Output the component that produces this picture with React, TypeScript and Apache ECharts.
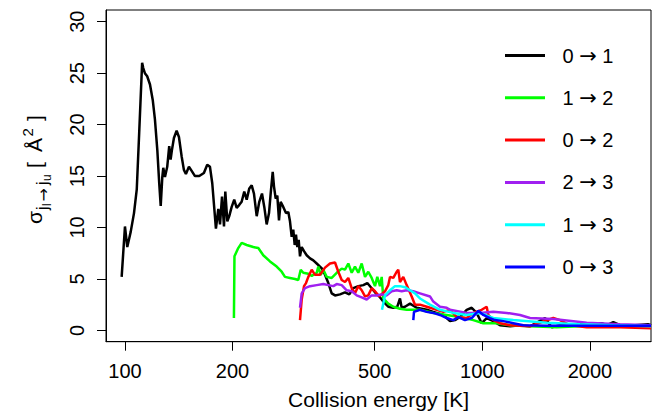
import React, { useEffect, useRef } from "react";
import * as echarts from "echarts";

// ---- data (collision energy in K, cross section in Å^2) ----
const xTicks = [100, 200, 500, 1000, 2000];
const yTicks = [0, 5, 10, 15, 20, 25, 30];
const seriesNames = ["0 → 1", "1 → 2", "0 → 2", "2 → 3", "1 → 3", "0 → 3"];
const seriesColors = ["#000000", "#00FF00", "#FF0000", "#A020F0", "#00FFFF", "#0000FF"];

const energy01 = [97.9, 100.0, 101.5, 103.8, 106.0, 107.9, 109.6, 111.7, 112.5, 113.7,
  115.4, 117.5, 119.6, 121.3, 123.2, 124.7, 125.9, 127.2, 128.0, 129.4,
  131.3, 133.0, 134.2, 135.3, 137.1, 139.5, 141.6, 144.1, 146.2, 148.1,
  151.0, 153.7, 157.0, 161.4, 166.3, 169.9, 172.9, 175.5, 179.7, 182.5,
  184.5, 186.9, 189.3, 190.9, 193.4, 195.8, 198.9, 202.2, 205.4, 208.9,
  212.1, 215.7, 219.1, 222.8, 226.3, 229.6, 233.7, 237.6, 241.8, 245.4,
  249.2, 253.0, 255.7, 259.1, 261.2, 264.1, 266.9, 269.8, 272.7, 277.3,
  282.2, 286.5, 289.6, 292.8, 295.8, 298.5, 301.0, 303.6, 306.3, 308.9,
  312.3, 317.0, 322.5, 329.5, 336.6, 344.0, 351.4, 356.0, 362.9, 370.7,
  378.9, 387.1, 399.7, 412.8, 424.4, 435.5, 449.8, 464.5, 476.6, 490.2,
  504.0, 514.9, 528.3, 545.6, 563.5, 578.2, 588.3, 594.8, 607.5, 627.5,
  655.1, 698.8, 729.1, 777.7, 812.0, 838.6, 866.0, 904.2, 933.8, 964.4,
  995.9, 1028.5, 1073.3, 1120.6, 1195.2, 1274.7, 1359.6, 1497.4, 1563.6, 1649.5,
  1816.8, 2001.3, 2158, 2232.9, 2325.4, 2428, 2674, 2908, 2965];
const sigma01 = [5.2, 10.1, 8.1, 9.6, 11.4, 13.7, 19.2, 26.0, 25.5, 25.0,
  24.7, 23.9, 22.4, 20.5, 17.5, 14.3, 12.1, 14.9, 15.8, 14.9,
  15.9, 17.9, 16.6, 17.5, 18.7, 19.4, 18.8, 16.9, 15.6, 15.2,
  15.9, 15.5, 15.0, 15.0, 15.3, 16.1, 15.9, 14.3, 9.9, 11.8,
  10.3, 13.0, 10.1, 13.5, 10.6, 11.1, 12.0, 12.7, 11.9, 12.2,
  12.5, 13.5, 12.7, 13.8, 14.1, 13.3, 11.1, 12.5, 13.3, 12.0,
  10.3, 11.4, 13.3, 15.4, 14.0, 12.8, 13.1, 10.7, 12.5, 12.0,
  11.4, 11.5, 10.6, 9.1, 9.8, 8.3, 9.3, 8.1, 8.8, 7.2,
  8.1, 7.7, 7.3, 7.0, 6.8, 6.5, 6.2, 6.0, 5.4, 4.6,
  3.6, 3.4, 3.5, 3.7, 3.5, 4.1, 4.3, 4.4, 4.6, 4.1,
  3.6, 3.3, 2.8, 2.3, 2.2, 2.3, 3.1, 2.2, 2.3, 2.6,
  2.2, 2.0, 1.8, 1.5, 0.9, 1.0, 1.3, 2.0, 2.2, 1.7,
  0.7, 1.2, 0.9, 0.5, 0.4, 0.5, 0.4, 1.2, 0.3, 0.5,
  0.6, 0.6, 0.7, 0.5, 0.8, 0.5, 0.5, 0.6, 0.5];

const energy12 = [201.8, 202.5, 207.5, 212.1, 219.1, 228.6, 236.1, 243.8, 254.6, 265.8,
  274.5, 280.4, 289.6, 299.1, 305.5, 310.3, 315.5, 325.9, 333.1, 344.0,
  347.6, 353.0, 359.0, 366.9, 378.9, 391.3, 404.1, 412.8, 421.7, 431.0,
  440.2, 449.8, 459.7, 469.6, 479.6, 490.2, 500.8, 508.3, 517.2, 522.9,
  528.3, 545.6, 563.5, 588.3, 614.2, 641.0, 669.2, 729.1, 794.9, 866.0,
  943.5, 1006.3, 1097.0, 1195.2, 1359.6, 1614.8, 1876.4, 2232.9, 2589.6, 2965];
const sigma12 = [1.2, 7.2, 8.0, 8.5, 8.3, 8.1, 8.0, 7.3, 6.7, 6.2,
  5.7, 5.2, 5.1, 5.0, 4.9, 5.9, 5.6, 5.5, 5.3, 5.6,
  6.2, 5.4, 5.9, 5.2, 5.1, 5.6, 6.0, 5.9, 6.5, 5.6,
  6.2, 5.6, 6.5, 5.2, 5.7, 5.1, 4.3, 5.2, 4.3, 5.2,
  3.1, 2.6, 2.3, 2.1, 2.0, 2.0, 2.0, 1.7, 1.5, 1.3,
  1.0, 0.7, 0.7, 0.5, 0.4, 0.3, 0.4, 0.4, 0.4, 0.4];

const energy02 = [308.9, 312.3, 317.0, 321.1, 325.9, 333.1, 340.3, 351.4, 362.9, 374.8,
  387.1, 395.4, 404.1, 412.8, 421.7, 431.0, 440.2, 449.8, 459.7, 469.6,
  479.6, 490.2, 500.8, 514.9, 534.1, 545.6, 551.6, 563.5, 575.9, 581.9,
  588.3, 600.9, 614.2, 634.4, 648.0, 669.2, 698.8, 745.3, 777.7, 812.0,
  847.8, 904.2, 943.5, 995.9, 1028.5, 1039.2, 1073.3, 1120.6, 1195.2, 1359.6,
  1579.9, 1649.5, 1759.3, 1959.2, 2428, 2965];
const sigma02 = [1.0, 3.0, 4.3, 4.6, 5.2, 5.9, 5.4, 5.4, 6.1, 6.5,
  6.6, 5.7, 4.9, 4.7, 5.1, 4.1, 3.6, 4.3, 3.9, 3.3,
  3.4, 4.1, 3.8, 3.3, 3.8, 4.4, 5.2, 5.1, 5.7, 5.9,
  4.7, 5.2, 4.4, 3.3, 2.5, 2.5, 2.3, 2.0, 1.8, 2.0,
  1.3, 1.2, 1.7, 2.0, 2.3, 1.5, 1.0, 0.7, 0.5, 0.4,
  1.2, 1.0, 0.5, 0.3, 0.3, 0.2];

const energy23 = [308.9, 312.3, 319.0, 329.5, 344.0, 359.0, 370.7, 382.9, 391.3, 404.1,
  417.3, 431.0, 445.1, 459.7, 474.7, 490.2, 506.3, 522.9, 540.0, 557.7,
  575.9, 594.8, 614.2, 641.0, 669.2, 713.8, 729.1, 761.3, 794.9, 812.0,
  904.2, 985.1, 1073.3, 1170.0, 1274.7, 1359.6, 1579.9, 1959.2, 2428, 2965];
const sigma23 = [2.2, 3.6, 4.1, 4.3, 4.4, 4.5, 4.4, 4.3, 4.5, 4.4,
  3.9, 3.8, 3.4, 3.2, 3.0, 3.4, 3.4, 3.5, 3.4, 3.8,
  3.9, 3.8, 3.9, 3.8, 3.6, 3.3, 2.8, 2.3, 2.2, 2.0,
  1.7, 1.7, 1.8, 1.7, 1.5, 1.2, 1.1, 0.75, 0.6, 0.5];

const energy13 = [523.9, 534.1, 551.6, 569.6, 588.3, 607.5, 627.5, 648.0, 669.2, 713.8,
  761.3, 829.5, 904.2, 985.1, 1073.3, 1220.9, 1514, 1876.4, 2325.4, 2965];
const sigma13 = [2.0, 3.4, 3.9, 4.3, 4.3, 4.2, 3.9, 3.6, 3.1, 2.5,
  2.0, 1.7, 1.5, 1.7, 1.2, 1.0, 0.75, 0.6, 0.5, 0.4];

const energy03 = [641.0, 643.9, 669.2, 698.8, 729.1, 761.3, 794.9, 829.5, 856.6, 894.3,
  933.8, 974.4, 1006.3, 1050.7, 1085.1, 1144.7, 1220.9, 1302.1, 1514, 2134.5, 2965];
const sigma03 = [1.0, 1.8, 2.0, 1.8, 1.7, 1.5, 1.2, 1.0, 1.3, 1.0,
  1.2, 1.9, 1.5, 1.2, 1.0, 0.9, 0.7, 0.5, 0.45, 0.45, 0.45];

const energies = [energy01, energy12, energy02, energy23, energy13, energy03];
const sigmas = [sigma01, sigma12, sigma02, sigma23, sigma13, sigma03];

const FONT = "'Liberation Sans', Arial, Helvetica, sans-serif";
const ARROW_FONT = "'DejaVu Sans', sans-serif";

function txt(text: string, x: number, y: number, size: number, family: string = FONT) {
  return {
    type: "text",
    x,
    y,
    style: {
      text,
      fontSize: size,
      fontFamily: family,
      fill: "#000",
      textAlign: "left",
      textVerticalAlign: "middle",
      align: "left",
      verticalAlign: "middle",
    },
  };
}

export default function App() {
  const ref = useRef<HTMLDivElement>(null);
  useEffect(() => {
    const chart = echarts.init(ref.current!, null, { renderer: "svg" });
    const series = seriesNames.map((name, i) => ({
      name,
      type: "line",
      data: energies[i].map((e, k) => [e, sigmas[i][k]]),
      showSymbol: false,
      symbol: "none",
      clip: true,
      lineStyle: { color: seriesColors[i], width: 2.5 },
      itemStyle: { color: seriesColors[i] },
      emphasis: { disabled: true },
    }));
    // y-axis title: sigma_{j_l -> j_u} [ Å^2 ] (rotated)
    const yTitle = {
      type: "group",
      x: 42,
      y: 224,
      rotation: Math.PI / 2,
      children: [
        txt("σ", 0, -7.35, 21),
        txt("j", 14, 0.4, 16),
        txt("l", 18, 5.2, 12),
        txt("→", 22.5, 1.2, 16, ARROW_FONT),
        txt("j", 39, 0.4, 16),
        txt("u", 43, 5.2, 12),
        txt("[", 56, -7.35, 21),
        txt("Å", 72, -7.35, 21),
        txt("2", 87.5, -14.25, 15),
        txt("]", 103, -7.35, 21),
      ],
    };
    const option: any = {
      animation: false,
      backgroundColor: "#ffffff",
      textStyle: { fontFamily: FONT },
      grid: {
        left: 106,
        right: 6,
        top: 10,
        bottom: 73.3,
        show: true,
        borderColor: "#000",
        borderWidth: 1,
        backgroundColor: "transparent",
        containLabel: false,
        outerBoundsMode: "none",
      },
      legend: {
        orient: "vertical",
        left: 505,
        top: 45,
        padding: 0,
        itemWidth: 40,
        itemHeight: 3,
        itemGap: 21.3,
        icon: "rect",
        data: seriesNames,
        formatter: (name: string) => {
          const parts = name.split(" → ");
          return "{d|" + parts[0] + " }{a|→}{d| " + parts[1] + "}";
        },
        textStyle: {
          fontSize: 20,
          lineHeight: 20,
          fontFamily: FONT,
          color: "#000",
          padding: [0, 0, 0, 12.5],
          rich: {
            d: { fontSize: 20, lineHeight: 20, fontFamily: FONT, color: "#000" },
            a: { fontSize: 21, lineHeight: 20, fontFamily: ARROW_FONT, color: "#000" },
          },
        },
      },
      xAxis: {
        type: "log",
        logBase: 10,
        min: 88.5,
        max: 2965,
        axisLine: { show: true, onZero: false, lineStyle: { color: "#000", width: 1 } },
        splitLine: { show: false },
        minorTick: { show: false },
        axisTick: { show: true, length: 9, lineStyle: { color: "#000", width: 1 }, customValues: xTicks },
        axisLabel: {
          customValues: xTicks,
          formatter: (v: number) => String(Math.round(v)),
          fontSize: 20,
          color: "#000",
          margin: 19.5,
          fontFamily: FONT,
        },
        name: "Collision energy [K]",
        nameLocation: "middle",
        nameGap: 47,
        nameTextStyle: { fontSize: 21, color: "#000", fontFamily: FONT },
      },
      yAxis: {
        type: "value",
        min: -1.1,
        max: 31.14,
        axisLine: { show: true, lineStyle: { color: "#000", width: 1 } },
        splitLine: { show: false },
        axisTick: { show: true, length: 9, lineStyle: { color: "#000", width: 1 }, customValues: yTicks },
        axisLabel: {
          customValues: yTicks,
          rotate: 90,
          fontSize: 20,
          color: "#000",
          margin: 19,
          fontFamily: FONT,
        },
      },
      graphic: [yTitle],
      series,
    };
    chart.setOption(option);
    return () => chart.dispose();
  }, []);
  return (
    <div
      ref={ref}
      style={{ position: "fixed", left: 0, top: 0, width: 657, height: 415, background: "#fff" }}
    />
  );
}
